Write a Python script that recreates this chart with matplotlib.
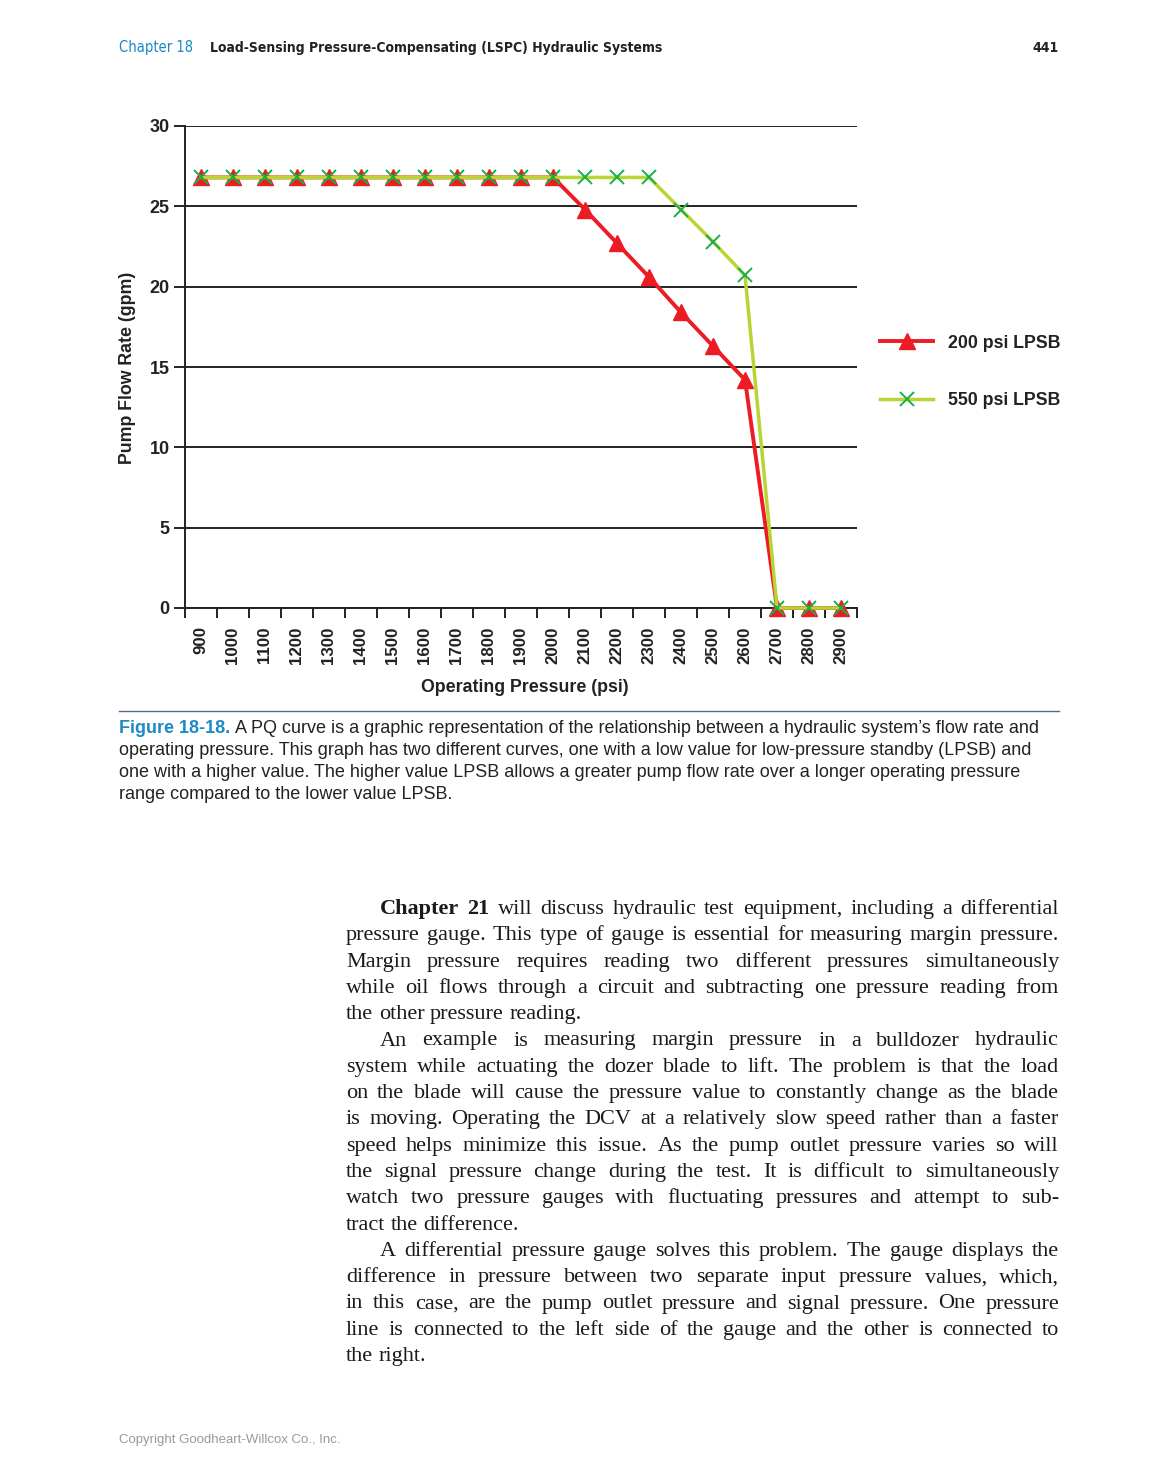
import matplotlib
matplotlib.use("Agg")
import matplotlib.pyplot as plt
from matplotlib import font_manager
from matplotlib.font_manager import FontProperties
from matplotlib.lines import Line2D

W, H = 1156, 1479

# chart data
pressure = ["900", "1000", "1100", "1200", "1300", "1400", "1500", "1600", "1700",
            "1800", "1900", "2000", "2100", "2200", "2300", "2400", "2500", "2600",
            "2700", "2800", "2900"]
flow_200 = [26.8, 26.8, 26.8, 26.8, 26.8, 26.8, 26.8, 26.8, 26.8, 26.8, 26.8, 26.8,
            24.8, 22.7, 20.6, 18.4, 16.3, 14.2, 0, 0, 0]
flow_550 = [26.8, 26.8, 26.8, 26.8, 26.8, 26.8, 26.8, 26.8, 26.8, 26.8, 26.8, 26.8,
            26.8, 26.8, 26.8, 24.8, 22.8, 20.7, 0, 0, 0]
y_ticks = [0, 5, 10, 15, 20, 25, 30]

names = {f.name for f in font_manager.fontManager.ttflist}
SANS = "Liberation Sans" if "Liberation Sans" in names else "DejaVu Sans"
SERIF = "Liberation Serif" if "Liberation Serif" in names else "DejaVu Serif"
BLUE = "#1b8ac6"
INK = "#222222"


def condensed_font(bold):
    # look for any installed condensed / narrow sans face for the running head
    for f in font_manager.fontManager.ttflist:
        fn = f.fname.lower()
        if ("condensed" in fn or "narrow" in fn) and "serif" not in fn and "mono" not in fn:
            if "italic" in fn or "oblique" in fn or "semi" in fn or "light" in fn or "extra" in fn:
                continue
            if ("bold" in fn) == bold:
                return f.fname
    return None


plt.rcParams["font.family"] = [SANS, "DejaVu Sans"]

fig = plt.figure(figsize=(W / 100, H / 100), dpi=100)


def fx(x):
    return x / W


def fy(y):
    return 1 - y / H


# ---- chart ----
ax = fig.add_axes([fx(185), fy(608), (857 - 185) / W, (608 - 126) / H])
xs = list(range(len(pressure)))
ax.plot(xs, flow_200, color="#ed1c24", lw=2.8, marker="^", ms=12,
        mfc="#ed1c24", mec="#ed1c24", zorder=3, clip_on=False, label="200 psi LPSB")
ax.plot(xs, flow_550, color="#b9d532", lw=2.5, marker="x", ms=10, mew=1.4,
        mec="#1aae4a", zorder=4, clip_on=False, label="550 psi LPSB")

ax.set_xlim(-0.5, len(pressure) - 0.5)
ax.set_ylim(0, 30)
ax.set_yticks(y_ticks)
ax.set_yticklabels([str(v) for v in y_ticks], fontsize=13, fontweight="bold", color=INK)
ax.yaxis.grid(True, color=INK, lw=1.4)
ax.set_axisbelow(True)
ax.set_xticks(xs)
ax.set_xticklabels(pressure, rotation=90, fontsize=12.2, fontweight="bold", color=INK)
ax.set_xticks([i - 0.5 for i in range(len(pressure) + 1)], minor=True)
ax.tick_params(axis="x", which="major", length=0, pad=13)
ax.tick_params(axis="x", which="minor", length=7, width=1.4, color=INK)
ax.tick_params(axis="y", length=8, width=1.4, color=INK, pad=3)
for s in ["top", "right"]:
    ax.spines[s].set_visible(False)
for s in ["left", "bottom"]:
    ax.spines[s].set_linewidth(1.4)
    ax.spines[s].set_color(INK)
for lab in ax.get_xticklabels():
    lab.set_va("top")

fig.text(fx(525), fy(688), "Operating Pressure (psi)", ha="center", va="center",
         fontsize=12.8, fontweight="bold", color=INK)
fig.text(fx(127), fy(368), "Pump Flow Rate (gpm)", ha="center", va="center",
         rotation=90, fontsize=12.8, fontweight="bold", color=INK)

fig.legend(loc="center left", bbox_to_anchor=(fx(880), fy(372)), frameon=False,
           prop={"size": 12.8, "weight": "bold"}, handlelength=3.0,
           labelspacing=2.3, handletextpad=0.8, borderpad=0, borderaxespad=0,
           labelcolor=INK)

# ---- page furniture ----
reg_c = condensed_font(False)
bold_c = condensed_font(True)
if reg_c:
    fp_ch = FontProperties(fname=reg_c, size=10.5)
else:
    fp_ch = FontProperties(family=SANS, size=10.5)
if bold_c:
    fp_title = FontProperties(fname=bold_c, size=10)
else:
    fp_title = FontProperties(family=SANS, weight="bold", size=9.8)

fig.text(fx(119), fy(52), "Chapter 18", color=BLUE, fontproperties=fp_ch, va="baseline")
fig.text(fx(210), fy(52), "Load-Sensing Pressure-Compensating (LSPC) Hydraulic Systems",
         color=INK, fontproperties=fp_title, va="baseline")
fig.text(fx(1059), fy(52), "441", color=INK, fontproperties=fp_title, va="baseline", ha="right")

fig.add_artist(Line2D([fx(119), fx(1059)], [fy(711), fy(711)], color="#4d6c88", lw=1))

renderer = fig.canvas.get_renderer()

caption = [
    "A PQ curve is a graphic representation of the relationship between a hydraulic system\u2019s flow rate and",
    "operating pressure. This graph has two different curves, one with a low value for low-pressure standby (LPSB) and",
    "one with a higher value. The higher value LPSB allows a greater pump flow rate over a longer operating pressure",
    "range compared to the lower value LPSB.",
]
cap_y = [733, 755, 777, 799]
t = fig.text(fx(119), fy(cap_y[0]), "Figure 18-18.", color=BLUE, fontsize=13,
             fontweight="bold", va="baseline")
w0 = t.get_window_extent(renderer).width
for i, line in enumerate(caption):
    x0 = 119 + w0 + 5 if i == 0 else 119
    fig.text(fx(x0), fy(cap_y[i]), line, color=INK, fontsize=13, va="baseline")

# body text, justified line by line
body = [
    ("I", [("Chapter 21", "bold"), ("will discuss hydraulic test equipment, including a differential", "normal")]),
    ("J", [("pressure gauge. This type of gauge is essential for measuring margin pressure.", "normal")]),
    ("J", [("Margin pressure requires reading two different pressures simultaneously", "normal")]),
    ("J", [("while oil flows through a circuit and subtracting one pressure reading from", "normal")]),
    ("E", [("the other pressure reading.", "normal")]),
    ("I", [("An example is measuring margin pressure in a bulldozer hydraulic", "normal")]),
    ("J", [("system while actuating the dozer blade to lift. The problem is that the load", "normal")]),
    ("J", [("on the blade will cause the pressure value to constantly change as the blade", "normal")]),
    ("J", [("is moving. Operating the DCV at a relatively slow speed rather than a faster", "normal")]),
    ("J", [("speed helps minimize this issue. As the pump outlet pressure varies so will", "normal")]),
    ("J", [("the signal pressure change during the test. It is difficult to simultaneously", "normal")]),
    ("J", [("watch two pressure gauges with fluctuating pressures and attempt to sub-", "normal")]),
    ("E", [("tract the difference.", "normal")]),
    ("I", [("A differential pressure gauge solves this problem. The gauge displays the", "normal")]),
    ("J", [("difference in pressure between two separate input pressure values, which,", "normal")]),
    ("J", [("in this case, are the pump outlet pressure and signal pressure. One pressure", "normal")]),
    ("J", [("line is connected to the left side of the gauge and the other is connected to", "normal")]),
    ("E", [("the right.", "normal")]),
]
left, right, indent = 346, 1059, 34
base0, step = 914, 26.3
fs_body = 16
sp = fig.text(0, 0, "a a", fontsize=fs_body, family=[SERIF, "DejaVu Serif"])
sa = fig.text(0, 0, "aa", fontsize=fs_body, family=[SERIF, "DejaVu Serif"])
space_w = sp.get_window_extent(renderer).width - sa.get_window_extent(renderer).width
sp.remove()
sa.remove()
for k, (kind, segs) in enumerate(body):
    y = base0 + k * step
    words = []
    for txt, wt in segs:
        words += [(w, wt) for w in txt.split()]
    arts = []
    for w, wt in words:
        a = fig.text(0, fy(y), w, fontsize=fs_body, fontweight=wt, family=[SERIF, "DejaVu Serif"],
                     color="#1a1a1a", va="baseline")
        arts.append((a, a.get_window_extent(renderer).width))
    x = left + (indent if kind == "I" else 0)
    total = sum(wd for _, wd in arts)
    if kind in ("I", "J") and len(arts) > 1:
        gap = max((right - x - total) / (len(arts) - 1), space_w * 0.6)
    else:
        gap = space_w
    for a, wd in arts:
        a.set_x(fx(x))
        x += wd + gap

fig.text(fx(119), fy(1443), "Copyright Goodheart-Willcox Co., Inc.", color="#9a9a9a",
         fontsize=9.5, va="baseline")

fig.savefig("out.png", dpi=100)
